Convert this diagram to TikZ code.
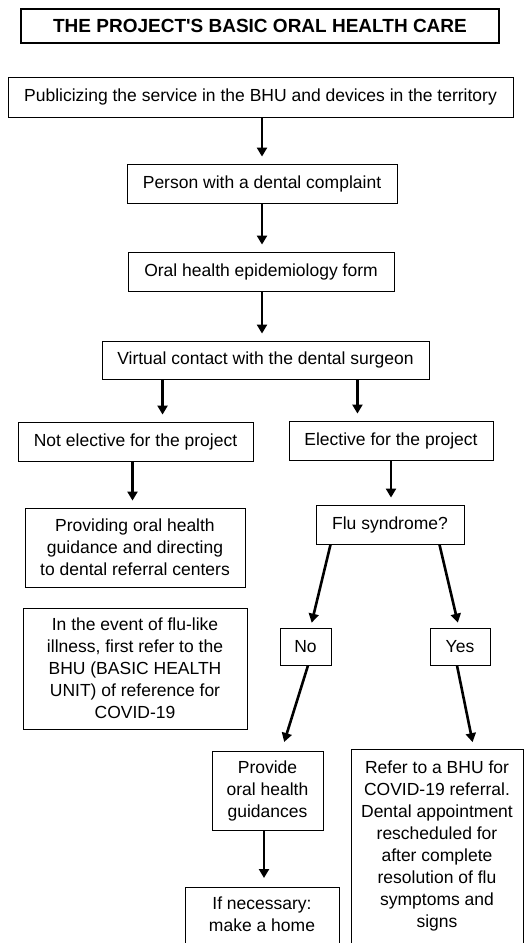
\documentclass[tikz,border=0pt]{standalone}
\usepackage{fontspec}
\newfontfamily\arialfont{Liberation Sans}
\usetikzlibrary{arrows.meta,positioning,calc}

\tikzset{
    flowbox/.style={draw, line width=0.9pt, align=center, inner sep=0pt,
        font=\arialfont\fontsize{17.5}{22}\selectfont},
    titlebox/.style={draw, line width=2pt, inner sep=0pt,
        font=\arialfont\bfseries\fontsize{19}{22}\selectfont},
    flowarrow/.style={line width=2.6pt, -{Triangle[length=9pt,width=10pt]}, shorten >=7pt},
}

\begin{document}
\begin{tikzpicture}[x=1pt,y=-1pt]
    \useasboundingbox (0,0) rectangle (525,943);
    \clip (0,0) rectangle (525,943);

    \node[titlebox, minimum width=478pt, minimum height=34pt] (title) at (260,26) {THE PROJECT'S BASIC ORAL HEALTH CARE};

    \node[flowbox, minimum width=505pt, minimum height=40pt] (pub) at (260.5,97) {Publicizing the service in the BHU and devices in the territory};
    \node[flowbox, minimum width=270pt, minimum height=39pt] (person) at (262,183.5) {Person with a dental complaint};
    \node[flowbox, minimum width=266pt, minimum height=39pt] (form) at (261,271.5) {Oral health epidemiology form};
    \node[flowbox, minimum width=327pt, minimum height=38pt] (virtual) at (265.5,360) {Virtual contact with the dental surgeon};

    \node[flowbox, minimum width=235pt, minimum height=39pt] (notel) at (135.5,441.5) {Not elective for the project};
    \node[flowbox, minimum width=204pt, minimum height=39pt] (elect) at (391,440.5) {Elective for the project};

    \node[flowbox, minimum width=220pt, minimum height=79pt] (guide) at (135,547.5) {Providing oral health\\guidance and directing\\to dental referral centers};
    \node[flowbox, minimum width=148pt, minimum height=39pt] (flu) at (390,524.5) {Flu syndrome?};

    \node[flowbox, minimum width=224pt, minimum height=121pt] (event) at (135,668.5) {In the event of flu-like\\illness, first refer to the\\BHU (BASIC HEALTH\\UNIT) of reference for\\COVID-19};
    \node[flowbox, minimum width=51pt, minimum height=37pt] (no) at (305.5,646.5) {No};
    \node[flowbox, minimum width=60pt, minimum height=37pt] (yes) at (460,646.5) {Yes};

    \node[flowbox, minimum width=111pt, minimum height=79pt] (provide) at (267.5,790.5) {Provide\\oral health\\guidances};
    \node[flowbox, minimum width=172pt, inner ysep=11.5pt, text depth=60pt, anchor=north] (refer) at (437,749) {Refer to a BHU for\\COVID-19 referral.\\Dental appointment\\rescheduled for\\after complete\\resolution of flu\\symptoms and\\signs};
    \node[flowbox, minimum width=154pt, inner ysep=9.5pt, text depth=60pt, anchor=north] (home) at (262,887) {If necessary:\\make a home};

    \draw[flowarrow] (person.north |- pub.south) -- (person.north);
    \draw[flowarrow] (person.south) -- (person.south |- form.north);
    \draw[flowarrow] ([xshift=1pt]form.south) -- ([xshift=1pt]form.south |- virtual.north);

    \draw[flowarrow] ([xshift=61pt]virtual.south west) -- ([xshift=61pt]virtual.south west |- notel.north);
    \draw[flowarrow] ([xshift=-72pt]virtual.south east) -- ([xshift=-72pt]virtual.south east |- elect.north);

    \draw[flowarrow] ([xshift=-3pt]notel.south) -- ([xshift=-3pt]notel.south |- guide.north);
    \draw[flowarrow] (elect.south) -- (elect.south |- flu.north);

    \draw[flowarrow, shorten >=5pt] ([xshift=15pt]flu.south west) -- ([xshift=5pt]no.north);
    \draw[flowarrow, shorten >=5pt] ([xshift=-25pt]flu.south east) -- ([xshift=-1pt]yes.north);

    \draw[flowarrow, shorten >=9pt] ([xshift=2.5pt]no.south) -- ([xshift=14pt]provide.north);
    \draw[flowarrow] ([xshift=-3pt]yes.south) -- ([xshift=37pt]refer.north);

    \draw[flowarrow, shorten >=9pt] ([xshift=-3.5pt]provide.south) -- ([xshift=-3.5pt]provide.south |- home.north);
\end{tikzpicture}
\end{document}
